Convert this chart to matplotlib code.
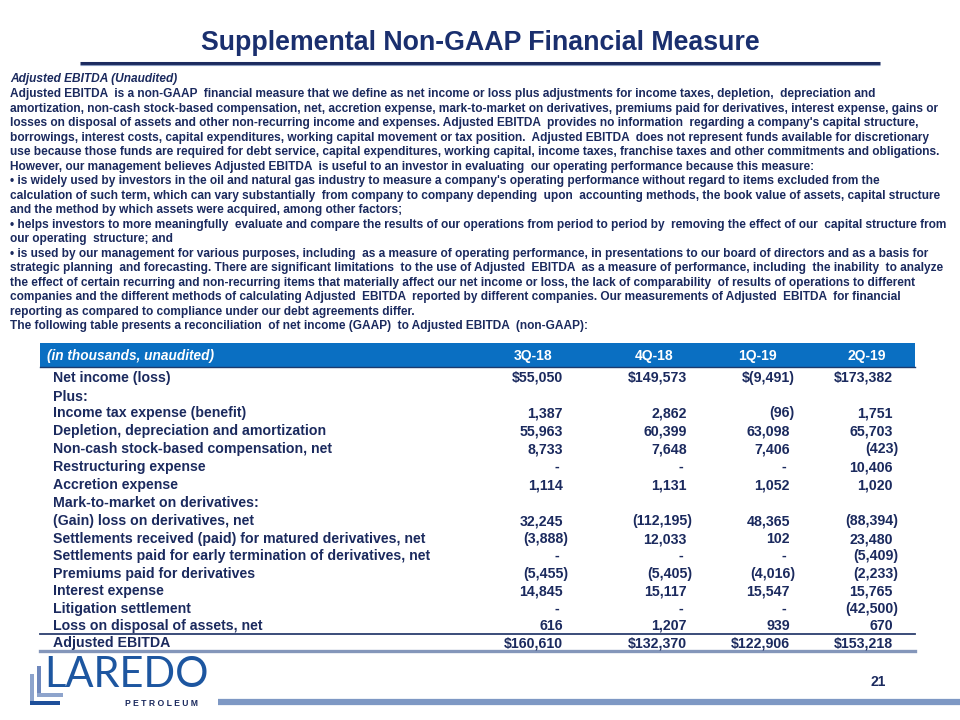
import matplotlib
matplotlib.use("Agg")
import matplotlib.pyplot as plt
from matplotlib.patches import Rectangle

plt.rcParams['font.family'] = ['Liberation Sans', 'DejaVu Sans']

title = "Supplemental Non-GAAP Financial Measure"
intro_heading = "Adjusted EBITDA (Unaudited)"
intro_lines = [
    "Adjusted EBITDA  is a non-GAAP  financial measure that we define as net income or loss plus adjustments for income taxes, depletion,  depreciation and",
    "amortization, non-cash stock-based compensation, net, accretion expense, mark-to-market on derivatives, premiums paid for derivatives, interest expense, gains or",
    "losses on disposal of assets and other non-recurring income and expenses. Adjusted EBITDA  provides no information  regarding a company's capital structure,",
    "borrowings, interest costs, capital expenditures, working capital movement or tax position.  Adjusted EBITDA  does not represent funds available for discretionary",
    "use because those funds are required for debt service, capital expenditures, working capital, income taxes, franchise taxes and other commitments and obligations.",
    "However, our management believes Adjusted EBITDA  is useful to an investor in evaluating  our operating performance because this measure:",
    "\u2022 is widely used by investors in the oil and natural gas industry to measure a company's operating performance without regard to items excluded from the",
    "calculation of such term, which can vary substantially  from company to company depending  upon  accounting methods, the book value of assets, capital structure",
    "and the method by which assets were acquired, among other factors;",
    "\u2022 helps investors to more meaningfully  evaluate and compare the results of our operations from period to period by  removing the effect of our  capital structure from",
    "our operating  structure; and",
    "\u2022 is used by our management for various purposes, including  as a measure of operating performance, in presentations to our board of directors and as a basis for",
    "strategic planning  and forecasting. There are significant limitations  to the use of Adjusted  EBITDA  as a measure of performance, including  the inability  to analyze",
    "the effect of certain recurring and non-recurring items that materially affect our net income or loss, the lack of comparability  of results of operations to different",
    "companies and the different methods of calculating Adjusted  EBITDA  reported by different companies. Our measurements of Adjusted  EBITDA  for financial",
    "reporting as compared to compliance under our debt agreements differ.",
    "The following table presents a reconciliation  of net income (GAAP)  to Adjusted EBITDA  (non-GAAP):",
]

header_label = "(in thousands, unaudited)"
periods = ["3Q-18", "4Q-18", "1Q-19", "2Q-19"]

row_labels = [
    "Net income (loss)",
    "Plus:",
    "Income tax expense (benefit)",
    "Depletion, depreciation and amortization",
    "Non-cash stock-based compensation, net",
    "Restructuring expense",
    "Accretion expense",
    "Mark-to-market on derivatives:",
    "(Gain) loss on derivatives, net",
    "Settlements received (paid) for matured derivatives, net",
    "Settlements paid for early termination of derivatives, net",
    "Premiums paid for derivatives",
    "Interest expense",
    "Litigation settlement",
    "Loss on disposal of assets, net",
    "Adjusted EBITDA",
]
# values per row: None = blank row, "-" = dash
q3_18 = [55050, None, 1387, 55963, 8733, "-", 1114, None, 32245, -3888, "-", -5455, 14845, "-", 616, 160610]
q4_18 = [149573, None, 2862, 60399, 7648, "-", 1131, None, -112195, 12033, "-", -5405, 15117, "-", 1207, 132370]
q1_19 = [-9491, None, -96, 63098, 7406, "-", 1052, None, 48365, 102, "-", -4016, 15547, "-", 939, 122906]
q2_19 = [173382, None, 1751, 65703, -423, 10406, 1020, None, -88394, 23480, -5409, -2233, 15765, -42500, 670, 153218]
dollar_rows = [0, 15]

page_number = "21"

NAVY = '#1B2A5E'
TITLE = '#1A2F6E'
BLUE = '#0A6FC2'

fig = plt.figure(figsize=(9.6, 7.2), dpi=100)
ax = fig.add_axes([0, 0, 1, 1])
ax.set_xlim(0, 960)
ax.set_ylim(720, 0)
ax.axis('off')

# Title
ax.text(480, 49.5, title, ha='center', va='baseline', fontsize=19.3, fontweight='bold', color=TITLE)
ax.plot([80, 880], [63, 63], color='#1B2A5E', lw=2.2, solid_capstyle='butt')
ax.plot([80, 880], [64.6, 64.6], color='#8A9CC0', lw=0.8, solid_capstyle='butt')

# Intro text
FS = 8.55
ax.text(10, 82.3, intro_heading, ha='left', va='baseline', fontsize=FS, fontweight='bold',
        fontstyle='italic', color=NAVY)
y0, dy = 92.7 + 4.3, 14.52
for i, line in enumerate(intro_lines):
    ax.text(10, y0 + i * dy, line, ha='left', va='baseline', fontsize=FS, fontweight='bold', color=NAVY)

# Table header
ax.add_patch(Rectangle((40, 343), 875, 23.5, facecolor=BLUE, edgecolor='none'))
ax.plot([40, 915], [366.5, 366.5], color='#1B3A6E', lw=1.0)
ax.text(47, 360, header_label, ha='left', va='baseline', fontsize=9.8, fontweight='bold',
        fontstyle='italic', color='white')
col_centers = [533, 654, 757, 867]
for c, p in zip(col_centers, periods):
    ax.text(c, 360, p, ha='center', va='baseline', fontsize=10, fontweight='bold', color='white')

TFS = 10.2
row_y = [377, 396, 412, 430, 448, 466, 484, 502, 520, 538, 555, 573, 590, 608, 625, 642]
BL = 5.0
label_x = 53
for y, lab in zip(row_y, row_labels):
    ax.text(label_x, y + BL, lab, ha='left', va='baseline', fontsize=TFS, fontweight='bold', color=NAVY)

col_right = [563, 687, 790, 893]
series = [q3_18, q4_18, q1_19, q2_19]


def fmt(v, dollar):
    if v == "-":
        return "-"
    s = f"{abs(v):,}"
    if v < 0:
        s = f"({s})"
    if dollar:
        s = "$" + s
    return s


for cr, vals in zip(col_right, series):
    for r, (y, v) in enumerate(zip(row_y, vals)):
        if v is None:
            continue
        s = fmt(v, r in dollar_rows)
        x = cr
        if v == "-":
            x = cr - 4
        elif v < 0:
            x = cr + 5
        ax.text(x, y + BL, s, ha='right', va='baseline', fontsize=TFS, fontweight='bold', color=NAVY)

# total lines
ax.plot([40, 915], [634, 634], color='#2B3E6E', lw=1.3)
ax.plot([40, 915], [651, 651], color='#8496BA', lw=2.4)

# Footer
ax.plot([218, 960], [701.5, 701.5], color='#7E98C4', lw=4.5, solid_capstyle='butt')
ax.text(878, 686, page_number, ha='center', va='baseline', fontsize=10, fontweight='bold', color=NAVY)

# Logo
ax.add_patch(Rectangle((30, 674), 4, 31, facecolor='#8EA4CC', edgecolor='none'))
ax.add_patch(Rectangle((30, 701), 30, 4, facecolor='#1E4F9A', edgecolor='none'))
ax.add_patch(Rectangle((37, 666), 4, 31, facecolor='#6F88BC', edgecolor='none'))
ax.add_patch(Rectangle((37, 693), 26, 3.5, facecolor='#8EA4CC', edgecolor='none'))
ax.text(44, 687, "LAREDO", ha='left', va='baseline', fontsize=30, color='#1D56A0',
        family=['Lato', 'DejaVu Sans'])
ax.text(125, 705.5, "P E T R O L E U M", ha='left', va='baseline', fontsize=6.2, fontweight='bold',
        color='#1B2A5E')

fig.savefig('out.png', dpi=100)
